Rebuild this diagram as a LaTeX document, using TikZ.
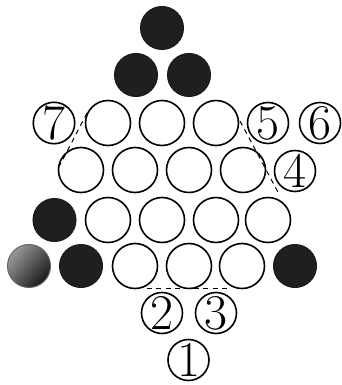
\documentclass[tikz,border=0pt]{standalone}
\begin{document}
\begin{tikzpicture}[x=0.5pt,y=-0.5pt,
  blank/.style={circle,draw,line width=0.8pt,minimum size=22.5pt,inner sep=0pt},
  coin/.style={circle,draw=black!90,fill=black!88,line width=0.5pt,minimum size=21.5pt,inner sep=0pt},
  lab/.style={circle,draw,line width=0.8pt,minimum size=20.5pt,inner sep=0pt,font=\fontsize{25}{25}\selectfont},
  cut/.style={line width=0.5pt,dash pattern=on 2.5pt off 2.2pt}]
\useasboundingbox (0,0) rectangle (342,385);
% black coins
\node[coin] (t0) at (162,28) {};
\node[coin] (t1) at (136,75) {};
\node[coin] (t2) at (189,75) {};
\node[coin] (b1) at (54.5,220) {};
\node[shade,circle,left color=black!40,right color=black!90,shading angle=50,draw=black!60,line width=0.5pt,minimum size=21.5pt,inner sep=0pt] (b2) at (29,266) {};
\node[coin] (b3) at (81,266) {};
\node[coin] (b4) at (295,266) {};
% row 3
\node[lab] (n7) at (54,123) {7};
\node[blank] (r3a) at (108,123) {};
\node[blank] (r3b) at (162,123) {};
\node[blank] (r3c) at (216,123) {};
\node[lab] (n5) at (268,123) {5};
\node[lab] (n6) at (320,123) {6};
% row 4
\node[blank] (r4a) at (81,170) {};
\node[blank] (r4b) at (135,170) {};
\node[blank] (r4c) at (189,170) {};
\node[blank] (r4d) at (243,170) {};
\node[lab] (n4) at (295,171) {4};
% row 5
\node[blank] (r5a) at (108,220) {};
\node[blank] (r5b) at (162,220) {};
\node[blank] (r5c) at (216,220) {};
\node[blank] (r5d) at (268,220) {};
% row 6
\node[blank] (r6a) at (135,266) {};
\node[blank] (r6b) at (189,266) {};
\node[blank] (r6c) at (242,266) {};
% labels bottom
\node[lab] (n2) at (162,313) {2};
\node[lab] (n3) at (216,313) {3};
\node[lab] (n1) at (188.5,360) {1};
% cut lines
\coordinate (l1) at (87,113);
\coordinate (l2) at (60,165);
\coordinate (q1) at (240,121);
\coordinate (q2) at (279,194);
\coordinate (m1) at (147,288);
\coordinate (m2) at (231,288);
\draw[cut] (l1) -- (l2);
\draw[cut] (q1) -- (q2);
\draw[cut] (m1) -- (m2);
\end{tikzpicture}
\end{document}
